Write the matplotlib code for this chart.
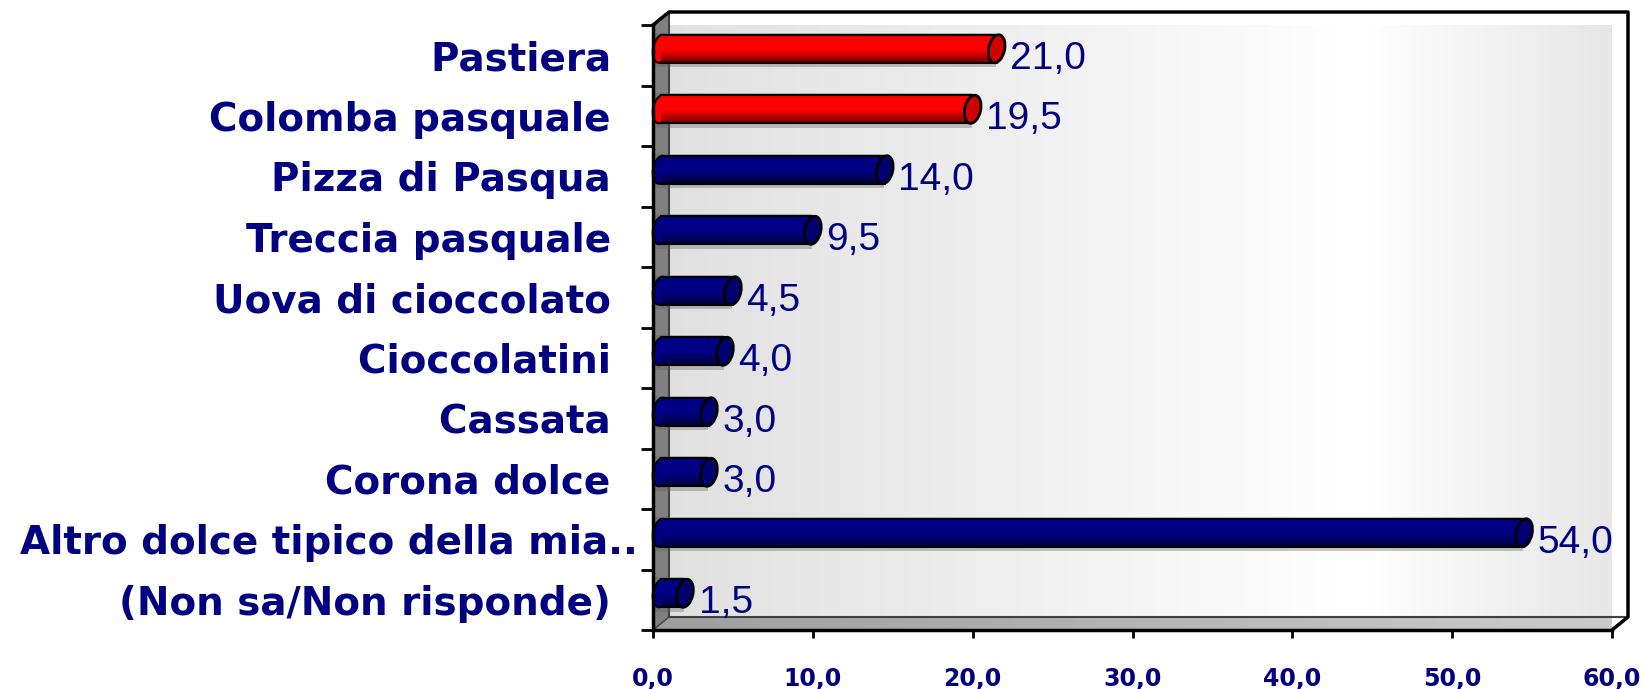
import numpy as np
import matplotlib
matplotlib.use("Agg")
import matplotlib.pyplot as plt
import matplotlib.transforms as mtransforms
from matplotlib.patches import Polygon, Ellipse

# --- data (top to bottom as in the chart) ---
categories = [
    "Pastiera  ",
    "Colomba pasquale  ",
    "Pizza di Pasqua  ",
    "Treccia pasquale  ",
    "Uova di cioccolato  ",
    "Cioccolatini  ",
    "Cassata  ",
    "Corona dolce  ",
    "Altro dolce tipico della mia..",
    "(Non sa/Non risponde)  ",
]
values = [21.0, 19.5, 14.0, 9.5, 4.5, 4.0, 3.0, 3.0, 54.0, 1.5]
bar_colors = ["red", "red", "navy", "navy", "navy", "navy", "navy", "navy", "navy", "navy"]
x_ticks = [0, 10, 20, 30, 40, 50, 60]

NAVY = "#000080"
base_rgb = {"red": np.array([1.0, 0.0, 0.0]), "navy": np.array([0.0, 0.0, 0.52])}
cap_rgb = {"red": "#d00000", "navy": "#000070"}

W, H, DPI = 1643, 689, 100
fig = plt.figure(figsize=(W / DPI, H / DPI), dpi=DPI)
fig.patch.set_facecolor("white")

# front plane of the 3d box, in figure pixels
left_px, right_px, top_px, bottom_px = 653, 1612, 25, 630
ax = fig.add_axes([left_px / W, 1 - bottom_px / H,
                   (right_px - left_px) / W, (bottom_px - top_px) / H])
ax.set_facecolor("none")

n = len(categories)
xmax = 60
ylo, yhi = n - 0.5, -0.5

# depth of the 3d box converted to data units
ux = (right_px - left_px) / xmax
uy = (bottom_px - top_px) / n
dx = 16 / ux
dy = 13 / uy


def hgrad(stops, levels):
    g = np.interp(np.linspace(0, 1, 400), stops, levels)
    return np.repeat(np.dstack([g, g, g]), 2, axis=0)


# --- back wall with horizontal gradient ---
ax.imshow(hgrad([0, 0.72, 1], [0.88, 1.0, 0.90]),
          extent=(dx, xmax + dx, ylo - dy, yhi - dy), aspect="auto",
          zorder=0, interpolation="bilinear")

# left wall
ax.add_patch(Polygon([(0, yhi), (dx, yhi - dy), (dx, ylo - dy), (0, ylo)],
                     closed=True, facecolor="#808080", edgecolor="none",
                     zorder=1, clip_on=False))
# floor with gradient
floor = Polygon([(0, ylo), (xmax, ylo), (xmax + dx, ylo - dy), (dx, ylo - dy)],
                closed=True, facecolor="none", edgecolor="none", zorder=1,
                clip_on=False)
ax.add_patch(floor)
fim = ax.imshow(hgrad([0, 1], [0.62, 0.80]),
                extent=(0, xmax + dx, ylo, ylo - dy), aspect="auto",
                zorder=1, interpolation="bilinear")
fim.set_clip_path(floor)

# box edges
ax.plot([dx, dx, xmax + dx], [yhi - dy, ylo - dy, ylo - dy], color="#404040",
        lw=1.5, zorder=2, clip_on=False)
ax.plot([0, dx, xmax + dx, xmax + dx, xmax], [yhi, yhi - dy, yhi - dy, ylo - dy, ylo],
        color="black", lw=2.5, zorder=2, clip_on=False)
ax.plot([0, dx], [ylo, ylo - dy], color="#404040", lw=1, zorder=2, clip_on=False)

ax.set_xlim(0, xmax)
ax.set_ylim(ylo, yhi)


def cap(x, y, face, lw, z):
    # tilted end ellipse, sized in inches, centred on a data point
    tr = fig.dpi_scale_trans + mtransforms.ScaledTranslation(x, y, ax.transData)
    ax.add_patch(Ellipse((0, 0), 0.16, bh * uy / DPI, angle=-12, facecolor=face,
                         edgecolor="black", lw=lw, zorder=z, transform=tr,
                         clip_on=False))


# --- cylinders, drawn half way into the depth ---
mdx, mdy = dx / 2, dy / 2
bh = 0.47
nstrip = 18
for i, (v, c) in enumerate(zip(values, bar_colors)):
    yc = i - mdy
    rgb = base_rgb[c]
    # soft grey shadow around the cylinder
    ax.barh(yc + 0.02, v + mdx * 0.9, height=bh + 0.1, left=0,
            color="#606060", alpha=0.35, zorder=3, linewidth=0, clip_on=False)
    # left rounded end
    cap(mdx, yc, rgb, 1.5, 3)
    # body with vertical shading
    for k in range(nstrip):
        t = (k + 0.5) / nstrip
        f = 1.0 if t < 0.55 else 1.0 - 0.6 * (t - 0.55) / 0.45
        ax.barh(yc - bh / 2 + (k + 0.5) * bh / nstrip, v, height=bh / nstrip * 1.05,
                left=mdx, color=np.clip(rgb * f, 0, 1), zorder=4, clip_on=False,
                linewidth=0)
    ax.plot([mdx, mdx + v], [yc - bh / 2, yc - bh / 2], color="black", lw=1.5,
            zorder=5, clip_on=False)
    ax.plot([mdx, mdx + v], [yc + bh / 2, yc + bh / 2], color="black", lw=1.5,
            zorder=5, clip_on=False)
    # right cap
    cap(mdx + v, yc, cap_rgb[c], 2, 6)
    ax.text(mdx + v + dx * 0.85, i + 0.06, f"{v:.1f}".replace(".", ","),
            ha="left", va="center", fontsize=28, color=NAVY,
            family="Liberation Sans", zorder=7)

# --- axes styling ---
for s in ["top", "right"]:
    ax.spines[s].set_visible(False)
for s in ["left", "bottom"]:
    ax.spines[s].set_linewidth(2.5)
    ax.spines[s].set_zorder(8)

ax.set_yticks(range(n))
ax.set_yticklabels(categories, fontsize=28, fontweight="bold", color=NAVY,
                   family="DejaVu Sans")
ax.set_yticks(np.arange(-0.5, n, 1), minor=True)
ax.tick_params(axis="y", which="major", length=0, pad=11)
ax.tick_params(axis="y", which="minor", length=8.6, width=2, direction="out")

ax.set_xticks(x_ticks)
ax.set_xticklabels([f"{t:.1f}".replace(".", ",") for t in x_ticks], fontsize=17,
                   fontweight="bold", color=NAVY)
ax.tick_params(axis="x", length=5.8, width=2, direction="out", pad=21)

fig.savefig("out.png", dpi=DPI)
